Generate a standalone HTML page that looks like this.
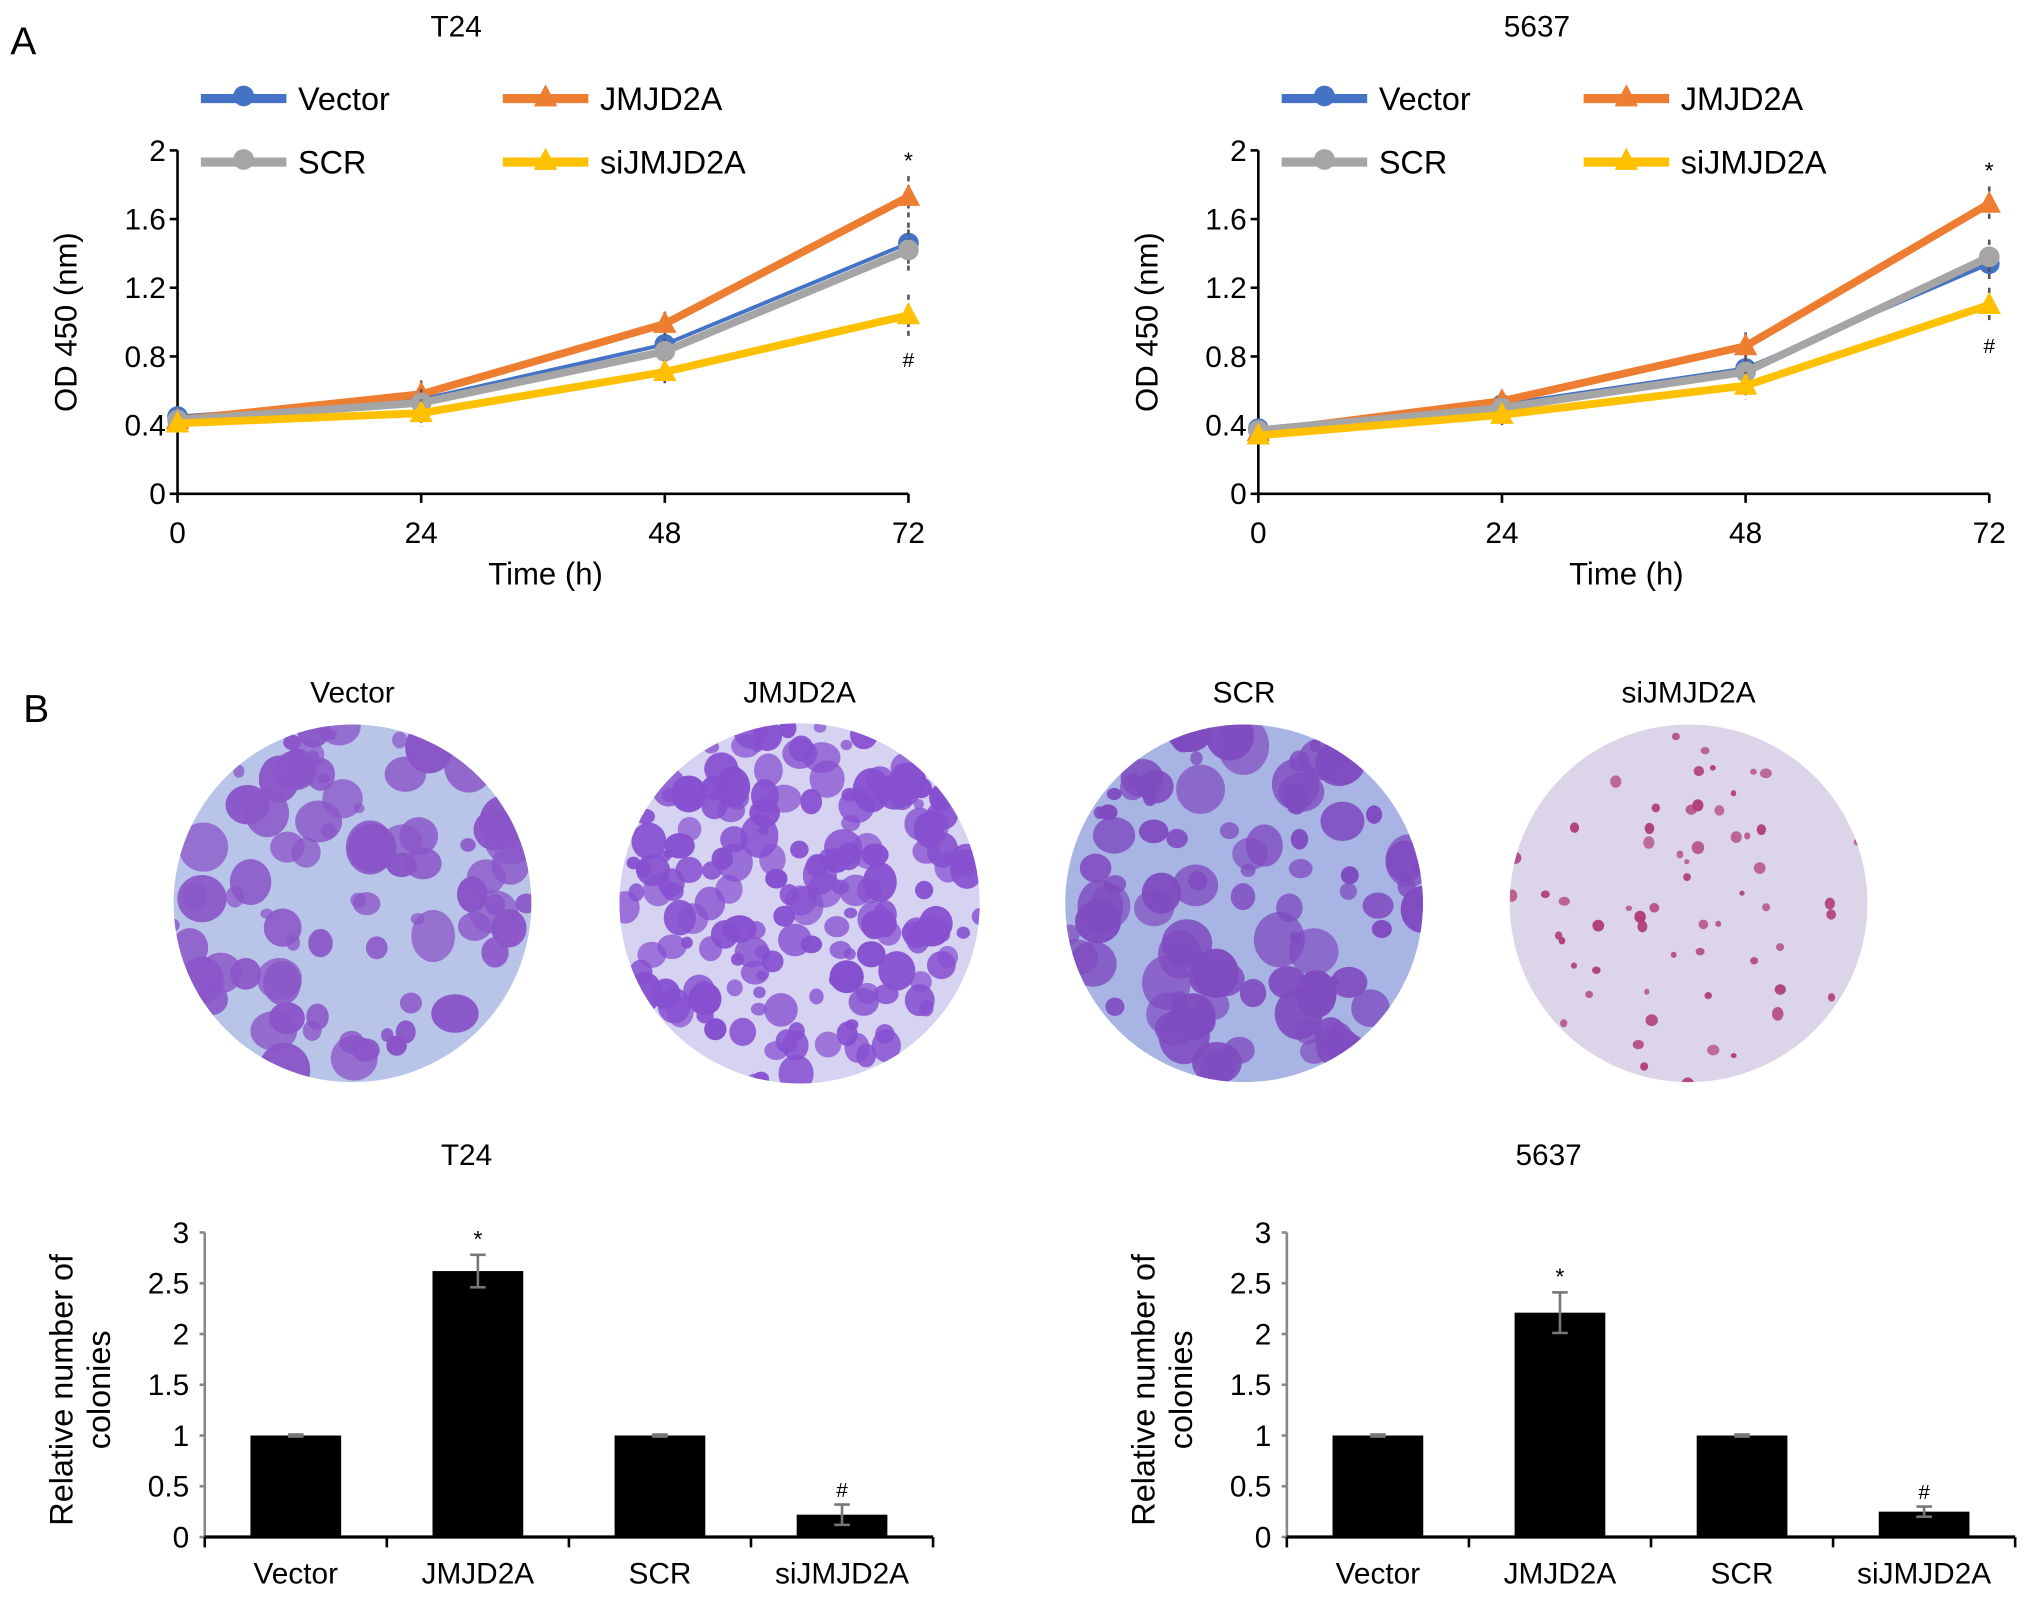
<!DOCTYPE html>
<html><head><meta charset="utf-8">
<style>
html,body{margin:0;padding:0;background:#fff;}
svg{display:block;font-family:"Liberation Sans",Arial,sans-serif;}
</style></head>
<body>
<svg id="fig" width="2032" height="1598" viewBox="0 0 1568 1233" xmlns="http://www.w3.org/2000/svg">
<defs>
<clipPath id="c1"><circle cx="272" cy="697" r="138"/></clipPath>
<clipPath id="c2"><circle cx="617" cy="697" r="139"/></clipPath>
<clipPath id="c3"><circle cx="960" cy="697" r="138"/></clipPath>
<clipPath id="c4"><circle cx="1303" cy="697" r="138"/></clipPath>
</defs>
<text x="8" y="42" font-size="30">A</text>
<text x="18" y="557" font-size="30">B</text>
<g id="root"></g>
</svg>
<script>
// ---- line chart data ----
const times = [0, 24, 48, 72];
const lineTicks = [0, 0.4, 0.8, 1.2, 1.6, 2];
const seriesNames = ["Vector", "JMJD2A", "SCR", "siJMJD2A"];
const t24Vector = [0.45, 0.55, 0.87, 1.46];
const t24JMJD2A = [0.43, 0.58, 0.99, 1.73];
const t24SCR = [0.43, 0.53, 0.83, 1.42];
const t24si = [0.41, 0.47, 0.71, 1.04];
const t24Err = [0.03, 0.08, 0.07, 0.12];
const c5637Vector = [0.38, 0.52, 0.73, 1.34];
const c5637JMJD2A = [0.36, 0.54, 0.86, 1.69];
const c5637SCR = [0.37, 0.50, 0.71, 1.38];
const c5637si = [0.34, 0.46, 0.63, 1.10];
const c5637Err = [0.03, 0.06, 0.08, 0.1];
// ---- bar chart data ----
const barCats = ["Vector", "JMJD2A", "SCR", "siJMJD2A"];
const barTicks = [0, 0.5, 1, 1.5, 2, 2.5, 3];
const barTickLabels = ["0", "0.5", "1", "1.5", "2", "2.5", "3"];
const t24Bars = [1, 2.62, 1, 0.22];
const t24BarErr = [0.01, 0.16, 0.01, 0.1];
const c5637Bars = [1, 2.21, 1, 0.25];
const c5637BarErr = [0.01, 0.2, 0.01, 0.05];
const dishLabels = ["Vector", "JMJD2A", "SCR", "siJMJD2A"];

const NS = "http://www.w3.org/2000/svg";
const root = document.getElementById("root");
function mk(tag, attrs, parent, text) {
  const e = document.createElementNS(NS, tag);
  for (const k in attrs) e.setAttribute(k, attrs[k]);
  if (text !== undefined) e.textContent = text;
  (parent || root).appendChild(e);
  return e;
}
const colors = ["#4472c4", "#ed7d31", "#a5a5a5", "#ffc000"];

function lineChart(ox, title, data, err, nm) {
  const g = mk("g", {});
  
  
  const x0 = ox, x1 = ox + 564, y0 = 381, y1 = 116;
  const sx = t => x0 + (t / 72) * (x1 - x0);
  const sy = v => y0 - (v / 2) * (y0 - y1);
  const tt = mk("text", {x: ox + 215, y: 28, "font-size": 23, "text-anchor": "middle"}, g, title);
  
  
  mk("line", {x1: x0, y1: y1, x2: x0, y2: y0, stroke: "#000", "stroke-width": 2}, g);
  mk("line", {x1: x0, y1: y0, x2: x1, y2: y0, stroke: "#000", "stroke-width": 2}, g);
  lineTicks.forEach(v => {
    mk("line", {x1: x0 - 6, y1: sy(v), x2: x0, y2: sy(v), stroke: "#000", "stroke-width": 2}, g);
    const l = mk("text", {x: x0 - 9, y: sy(v) + 8, "font-size": 23, "text-anchor": "end"}, g, String(v));
    
    
  });
  times.forEach(t => {
    mk("line", {x1: sx(t), y1: y0, x2: sx(t), y2: y0 + 7, stroke: "#000", "stroke-width": 2}, g);
    const l = mk("text", {x: sx(t), y: y0 + 38, "font-size": 23, "text-anchor": "middle"}, g, String(t));
    
    
  });
  const xt = mk("text", {x: sx(36) + 2, y: 451, "font-size": 24, "text-anchor": "middle"}, g, "Time (h)");
  
  
  const yt = mk("text", {x: 0, y: 0, "font-size": 24, "text-anchor": "middle", transform: `translate(${ox - 78},${sy(1)}) rotate(-90)`}, g, "OD 450 (nm)");
  
  
  data.forEach((s, i) => {
    const sg = mk("g", {}, g);
    
    
    s.forEach((v, j) => {
      mk("line", {x1: sx(times[j]), y1: sy(v + err[j]), x2: sx(times[j]), y2: sy(v - err[j]), stroke: "#555", "stroke-width": 2, "stroke-dasharray": "4,3"}, sg);
    });
    mk("polyline", {points: s.map((v, j) => sx(times[j]) + "," + sy(v)).join(" "), fill: "none", stroke: colors[i], "stroke-width": i === 0 ? 3 : 6}, sg);
    s.forEach((v, j) => {
      if (i % 2 === 0) mk("circle", {cx: sx(times[j]), cy: sy(v), r: 8, fill: colors[i]}, sg);
      else { const x = sx(times[j]), y = sy(v); mk("polygon", {points: `${x},${y - 10} ${x - 9},${y + 7} ${x + 9},${y + 7}`, fill: colors[i]}, sg); }
    });
  });
  const star = mk("text", {x: x1, y: sy(data[1][3] + err[3]) - 6, "font-size": 18, "text-anchor": "middle"}, g, "*");
  
  
  const hash = mk("text", {x: x1, y: sy(data[3][3] - err[3]) + 24, "font-size": 16, "text-anchor": "middle"}, g, "#");
  
  
  // legend
  const lx = [ox + 18, ox + 251], ly = [76, 125];
  seriesNames.forEach((n, i) => {
    const le = mk("g", {}, g);
    
    
    const x = lx[i % 2], y = ly[Math.floor(i / 2)];
    mk("line", {x1: x, y1: y, x2: x + 66, y2: y, stroke: colors[i], "stroke-width": 7}, le);
    if (i % 2 === 0) mk("circle", {cx: x + 33, cy: y - 2, r: 8, fill: colors[i]}, le);
    else mk("polygon", {points: `${x + 33},${y - 11} ${x + 24},${y + 6} ${x + 42},${y + 6}`, fill: colors[i]}, le);
    mk("text", {x: x + 75, y: y + 9, "font-size": 25}, le, n);
  });
}
lineChart(137, "T24", [t24Vector, t24JMJD2A, t24SCR, t24si], t24Err, "line-chart-t24");
lineChart(971, "5637", [c5637Vector, c5637JMJD2A, c5637SCR, c5637si], c5637Err, "line-chart-5637");

// ---- dishes (decorative photos) ----
let seed = 7;
function rnd() { seed = (seed * 16807) % 2147483647; return seed / 2147483647; }
const dishCx = [272, 617, 960, 1303];
const dishBg = ["#b8c4e8", "#d6d2f2", "#a8b4e4", "#dcd4e8"];
const dishCol = ["#8a55c8", "#8650d0", "#7f4cc0", "#b0407a"];
const dishN = [80, 180, 95, 60];
const dishR = [[4, 20], [4, 15], [4, 20], [2, 5]];
dishCx.forEach((cx, k) => {
  const dg = mk("g", {"clip-path": `url(#c${k + 1})`});
  
  
  mk("circle", {cx: cx, cy: 697, r: 140, fill: dishBg[k]}, dg);
  for (let i = 0; i < dishN[k]; i++) {
    const a = rnd() * 6.283, d = Math.sqrt(rnd()) * 140;
    const r = dishR[k][0] + rnd() * (dishR[k][1] - dishR[k][0]);
    mk("ellipse", {cx: cx + Math.cos(a) * d, cy: 697 + Math.sin(a) * d, rx: r, ry: r * (0.8 + rnd() * 0.4), fill: dishCol[k], opacity: 0.7 + rnd() * 0.3}, dg);
  }
  const l = mk("text", {x: cx, y: 542, "font-size": 23, "text-anchor": "middle"}, undefined, dishLabels[k]);
  
  
});

// ---- bar charts ----
function barChart(ox, title, vals, errs, nm) {
  const g = mk("g", {});
  
  
  const x0 = ox, x1 = ox + 562, y0 = 1186, y1 = 951;
  const sy = v => y0 - (v / 3) * (y0 - y1);
  const band = (x1 - x0) / vals.length;
  const cx = i => x0 + band * (i + 0.5);
  const tt = mk("text", {x: ox + 202, y: 899, "font-size": 23, "text-anchor": "middle"}, g, title);
  
  
  mk("line", {x1: x0, y1: y1, x2: x0, y2: y0, stroke: "#888", "stroke-width": 2}, g);
  barTicks.forEach((v, i) => {
    mk("line", {x1: x0 - 4, y1: sy(v), x2: x0, y2: sy(v), stroke: "#888", "stroke-width": 2}, g);
    const l = mk("text", {x: x0 - 12, y: sy(v) + 8, "font-size": 23, "text-anchor": "end"}, g, barTickLabels[i]);
    
    
  });
  const yt = mk("text", {"font-size": 25, "text-anchor": "middle", transform: `translate(${ox - 102},${sy(1.45)}) rotate(-90)`}, g);
  
  
  mk("tspan", {x: 0, dy: 0}, yt, "Relative number of");
  mk("tspan", {x: 0, dy: 29}, yt, "colonies");
  vals.forEach((v, i) => {
    const b = mk("rect", {x: cx(i) - 35, y: sy(v), width: 70, height: y0 - sy(v), fill: "#000"}, g);
    
    
    const e = errs[i];
    mk("line", {x1: cx(i), y1: sy(v + e), x2: cx(i), y2: sy(v - e), stroke: "#777", "stroke-width": 2}, g);
    mk("line", {x1: cx(i) - 6, y1: sy(v + e), x2: cx(i) + 6, y2: sy(v + e), stroke: "#777", "stroke-width": 2}, g);
    mk("line", {x1: cx(i) - 6, y1: sy(v - e), x2: cx(i) + 6, y2: sy(v - e), stroke: "#777", "stroke-width": 2}, g);
    const l = mk("text", {x: cx(i), y: 1222, "font-size": 23, "text-anchor": "middle"}, g, barCats[i]);
    
    
    mk("line", {x1: x0 + band * i, y1: y0, x2: x0 + band * i, y2: y0 + 8, stroke: "#000", "stroke-width": 2}, g);
  });
  mk("line", {x1: x1, y1: y0, x2: x1, y2: y0 + 8, stroke: "#000", "stroke-width": 2}, g);
  mk("line", {x1: x0, y1: y0, x2: x1, y2: y0, stroke: "#000", "stroke-width": 2.5}, g);
  const s = mk("text", {x: cx(1), y: sy(vals[1] + errs[1]) - 6, "font-size": 18, "text-anchor": "middle"}, g, "*");
  
  
  const h = mk("text", {x: cx(3), y: sy(vals[3] + errs[3]) - 6, "font-size": 16, "text-anchor": "middle"}, g, "#");
  
  
}
barChart(158, "T24", t24Bars, t24BarErr, "bar-chart-t24");
barChart(993, "5637", c5637Bars, c5637BarErr, "bar-chart-5637");
</script>
</body></html>
